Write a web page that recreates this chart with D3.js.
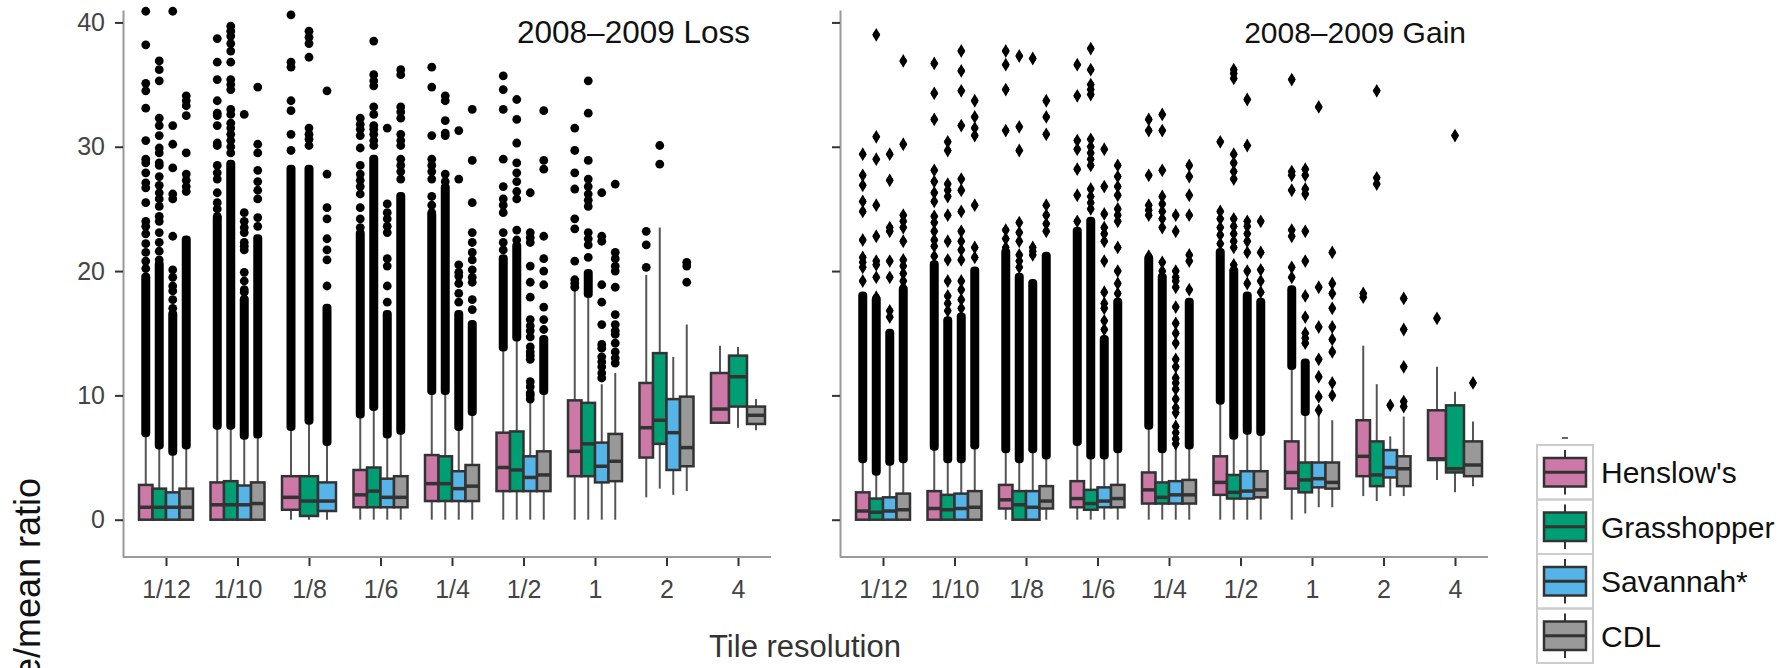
<!DOCTYPE html>
<html><head><meta charset="utf-8">
<script src="https://cdn.jsdelivr.net/npm/d3@7"></script>
<style>
body{margin:0;background:#fff;}
svg{display:block;font-family:"Liberation Sans",Arial,sans-serif;}
</style></head>
<body>
<svg id="c" width="1781" height="668"></svg>
<script>
const categories = ["1/12","1/10","1/8","1/6","1/4","1/2","1","2","4"];
const seriesNames = ["Henslow's","Grasshopper","Savannah*","CDL"];
const seriesColors = ["#CC79A7","#009E73","#56B4E9","#999999"];
const yTicks = [0,10,20,30,40];
const panelTitles = ["2008\u20132009 Loss","2008\u20132009 Gain"];

// [lower whisker, q1, median, q3, upper whisker]
const lossHenslow = [[0,0,1.0,2.8,6.8],[0,0,1.2,3.0,7.5],[0,0.8,1.8,3.5,7.4],[0,1.0,2.0,4.0,8.4],[0,1.5,2.9,5.2,10.3],[0,2.3,4.2,7.0,13.8],[0,3.5,5.5,9.6,18.5],[1.8,5.0,7.4,11.0,19.7],[7.8,7.8,8.9,11.8,14.0]];
const lossGrass = [[0,0,1.0,2.5,5.9],[0,0,1.2,3.1,7.5],[0,0.3,1.5,3.5,7.9],[0,1.0,2.3,4.2,9.0],[0,1.5,2.9,5.1,10.3],[0,2.3,4.0,7.1,14.6],[0,3.5,6.1,9.4,17.9],[2.5,6.1,8.0,13.4,23.5],[7.4,9.1,11.5,13.2,13.9]];
const lossSav = [[0,0,1.0,2.2,5.4],[0,0,1.2,2.75,6.7],[0,0.7,1.5,3.0,6.2],[0,1.0,1.8,3.3,6.8],[0,1.5,2.5,3.9,7.4],[0,2.3,3.4,5.1,9.5],[0,3.0,4.3,6.2,10.9],[2.0,4.0,7.0,9.7,13.1],null];
const lossCDL = [[0,0,1.0,2.5,5.9],[0,0,1.3,3.0,6.8],null,[0,1.0,1.8,3.5,7.1],[0,1.5,2.7,4.4,8.6],[0,2.3,3.6,5.5,10.3],[0,3.1,4.7,6.9,11.8],[2.3,4.3,5.8,9.9,15.7],[7.2,7.7,8.4,9.1,9.7]];

// solid runs of overlapping outliers [from, to]
const lossHenslowDense = [[7.0,19.5],[7.6,24.2],[7.5,28.2],[8.5,23.0],[10.4,24.5],[13.9,21.0],null,null,null];
const lossGrassDense = [[6.0,20.5],[7.6,28.6],[8.0,28.2],[9.1,29.0],[10.4,26.7],[14.7,22.0],[18.2,19.8],null,null];
const lossSavDense = [[5.5,16.5],[6.8,17.7],[6.3,17.0],[6.9,16.5],[7.5,16.5],null,null,null,null];
const lossCDLDense = [[6.0,22.5],[6.9,22.6],null,[7.2,26.0],[8.7,15.7],[10.4,14.5],null,null,null];

// separate outliers
const lossHenslowOut = [[20.2,20.8,21.5,22.2,23.0,23.6,24.0,25.5,26.7,27.1,27.9,28.7,29.0,30.5,33.1,34.5,35.1,38.2,40.9],
 [24.4,25.0,25.5,26.3,27.4,27.9,28.5,30.1,30.3,31.7,32.5,32.7,33.7,35.4,36.8,38.7],
 [29.7,31.0,32.9,33.7,36.4,36.8,40.6],
 [23.5,24.2,25.1,26.2,26.8,27.3,27.8,28.5,29.9,30.9,31.4,31.8,32.3],
 [24.7,25.3,26.0,27.4,28.0,28.5,29.0,30.9,34.8,36.4],
 [21.7,22.3,23.1,24.7,25.3,25.8,26.8,29.0,33.0,34.6,35.7],
 [18.7,19.0,19.3,20.8,23.4,24.2,26.6,27.9,29.7,31.5],
 [20.3,22.1,23.2],[]];
const lossGrassOut = [[20.9,21.6,22.3,23.1,24.0,24.4,25.2,25.8,26.3,26.9,27.6,28.5,28.7,29.5,29.9,30.9,31.7,32.3,35.3,36.2,36.9],
 [29.5,30.0,30.5,31.0,31.5,31.9,32.6,33.0,34.6,35.0,35.4,36.8,37.7,38.3,38.9,39.3,39.7],
 [30.1,30.6,31.0,31.5,37.2,38.3,38.8,39.3],
 [30.1,30.5,31.0,31.4,31.7,32.6,33.2,34.9,35.3,35.8,38.5],
 [27.2,27.8,30.9,31.1,32.1,33.7,34.1],
 [22.5,23.3,25.8,26.4,27.2,27.9,28.7,30.3,32.2,33.8],
 [21.1,22.1,22.6,23.1,25.2,25.7,26.2,26.8,27.4,28.9,32.7,35.3],
 [28.6,30.1],[]];
const lossSavOut = [[17.0,17.7,18.4,18.8,19.5,20.1,22.8,25.8,26.2,28.3,30.2,31.7,40.9],
 [18.3,18.5,19.2,19.9,21.7,22.0,22.3,23.1,23.5,24.0,24.7,32.6],
 [18.8,20.9,21.7,22.6,24.2,25.1,27.8,34.5],
 [17.5,18.8,20.4,21.0,23.1,23.6,24.2,24.7,25.4,31.5],
 [17.5,18.2,19.0,19.6,19.9,20.5,27.4,31.3],
 [9.7,10.0,10.2,10.7,11.1,12.9,13.2,13.5,13.9,14.7,15.2,15.6,16.1,17.9,19.1,20.4,22.3,22.7,23.1,26.3],
 [11.4,11.8,12.3,12.7,13.1,13.8,14.1,15.7,17.5,18.9,22.4,22.8,26.3],
 [],null];
const lossCDLOut = [[26.4,26.8,27.3,27.8,29.5,32.5,33.3,33.7,34.1],
 [23.6,24.3,25.8,26.5,27.2,28.1,29.5,30.2,34.8],
 null,
 [27.4,28.0,28.5,29.0,30.1,30.5,31.0,32.3,32.8,33.2,35.8,36.2],
 [16.9,17.7,19.1,19.5,20.1,20.9,21.5,22.3,23.1,25.5,28.9,33.0],
 [15.3,16.1,17.1,18.9,20.0,21.0,22.8,28.2,28.9,32.9],
 [12.6,13.0,13.5,14.2,14.9,15.2,15.7,16.5,18.7,20.0,20.4,21.0,21.5,27.0],
 [19.1,20.4,20.7],[]];

const gainHenslow = [[0,0,0.7,2.2,4.8],[0,0,0.9,2.3,5.8],[0,0.9,1.6,2.8,5.6],[0,1.0,1.7,3.1,6.2],[0,1.3,2.4,3.8,7.5],[0,2.0,3.0,5.1,9.5],[0,2.5,3.8,6.3,12.3],[1.9,3.5,5.1,8.0,14.0],[3.2,4.8,4.9,8.8,12.3]];
const gainGrass = [[0,0,0.6,1.7,3.8],[0,0,0.8,2.0,4.8],[0,0,1.2,2.3,4.8],[0,0.8,1.3,2.4,5.1],[0,1.3,1.8,3.0,5.6],[0,1.7,2.2,3.6,6.7],[0.5,2.2,3.2,4.6,8.6],[1.5,2.7,3.6,6.3,10.9],[2.2,3.8,4.1,9.2,10.3]];
const gainSav = [[0,0,0.7,1.8,4.6],[0,0,0.9,2.1,4.8],[0,0,1.0,2.3,5.6],[0,1.0,1.5,2.6,5.1],[0,1.3,2.0,3.1,5.9],[0,1.7,2.3,3.9,7.1],[1.0,2.6,3.3,4.6,8.5],[1.9,3.4,4.2,5.6,6.7],null];
const gainCDL = [[0,0,0.8,2.1,4.8],[0,0,1.0,2.3,5.9],[0,0.9,1.5,2.7,5.1],[0,1.0,1.7,2.8,5.6],[0,1.3,2.0,3.2,5.9],[0,1.8,2.4,3.9,7.0],[1.0,2.5,3.0,4.6,8.0],[1.9,2.7,4.1,5.1,8.3],[2.7,3.5,4.4,6.3,7.9]];

const gainHenslowDense = [[4.9,18.0],[5.9,20.5],[5.7,21.5],[6.3,23.2],[7.6,21.0],[9.6,21.5],[12.4,18.5],null,null];
const gainGrassDense = [[3.9,17.7],[4.9,16.0],[4.9,19.5],[5.2,24.0],[5.7,19.5],[6.8,20.0],[8.7,12.6],null,null];
const gainSavDense = [[4.7,15.0],[4.9,16.3],[5.7,19.0],[5.2,14.5],null,[7.2,18.0],null,null,null];
const gainCDLDense = [[4.9,18.5],[6.0,20.0],[5.2,21.2],[5.7,17.5],[6.0,17.5],[7.1,17.5],null,null,null];

const gainHenslowOut = [[19.2,20.3,20.7,21.1,22.5,24.8,25.6,26.9,27.7,29.4],
 [21.2,22.0,22.5,23.2,23.9,24.4,25.6,26.3,27.2,28.1,32.2,34.3,36.7],
 [21.9,22.6,23.3,31.3,34.6,36.6,37.7],
 [24.0,26.1,28.2,29.8,30.5,34.1,36.6],
 [21.2,24.5,24.9,25.3,27.7,31.3,32.2],
 [22.2,22.9,23.5,24.2,24.8,30.4],
 [19.5,20.3,22.8,23.3,26.5,27.7,28.0,35.4],
 [17.9,18.2],[16.2]];
const gainGrassOut = [[17.9,19.5,20.5,20.8,22.8,25.3,29.0,30.8,39.0],
 [16.8,17.4,18.0,19.2,20.9,22.4,24.5,26.0,26.5,27.0,29.7,30.4],
 [20.3,20.8,21.3,22.4,23.1,23.9,29.7,31.6,37.3],
 [25.0,25.5,26.0,26.6,28.5,29.0,29.5,30.0,30.6,34.2,34.6,35.0,36.2,37.9],
 [20.0,20.7,23.5,24.2,24.8,25.4,26.0,28.1,31.3,32.6],
 [20.5,21.9,22.4,23.0,23.6,24.2,27.4,28.0,28.7,29.4,35.5,35.9,36.2],
 [14.2,14.6,15.0,16.3,18.0,20.8,23.2,26.2,26.6,27.7,28.2],
 [27.0,27.5,34.5],[30.9]];
const gainSavOut = [[16.3,16.8,19.5,20.8,23.2,23.5,27.3,29.4],
 [17.0,17.7,18.5,19.2,20.9,21.7,22.4,23.2,24.8,26.5,27.4,31.7,34.5,36.1,37.7],
 [21.3,21.6,21.9,37.1],
 [15.3,16.0,17.0,17.4,18.3,20.8,22.4,23.0,23.5,24.6,26.8,29.8],
 [6.1,6.5,7.0,7.5,8.6,9.0,9.7,10.5,11.0,11.4,12.3,12.9,14.2,15.0,15.8,17.1,18.7,19.2,19.5,20.0,23.2,24.5],
 [19.0,20.0,21.5,22.4,23.0,23.6,24.0,30.1,33.8],
 [8.8,9.9,11.5,12.9,15.5,18.7,33.2],
 [9.2],null];
const gainCDLOut = [[18.7,19.2,19.8,20.4,20.9,22.4,23.5,24.0,24.5,30.2,36.9],
 [21.1,21.9,25.3,30.9,31.5,32.4,33.7],
 [23.2,23.8,24.5,25.3,31.0,32.4,33.7],
 [18.2,19.0,20.0,21.9,24.0,24.5,25.0,26.1,26.8,27.6,28.5],
 [18.5,20.8,21.3,24.5,26.1,27.6,28.5],
 [18.3,19.2,20.1,21.5,24.0],
 [10.0,11.0,13.5,14.5,15.5,17.0,18.2,19.0,21.5],
 [9.1,9.5,12.3,15.3,17.8],[11.0]];

const panels = [
  {title: panelTitles[0], stats:[lossHenslow,lossGrass,lossSav,lossCDL], dense:[lossHenslowDense,lossGrassDense,lossSavDense,lossCDLDense], out:[lossHenslowOut,lossGrassOut,lossSavOut,lossCDLOut]},
  {title: panelTitles[1], stats:[gainHenslow,gainGrass,gainSav,gainCDL], dense:[gainHenslowDense,gainGrassDense,gainSavDense,gainCDLDense], out:[gainHenslowOut,gainGrassOut,gainSavOut,gainCDLOut]}
];

const svg = d3.select("#c");
const axisXs = [123, 840];
const yTop = 10, yBottom = 557;
const y = d3.scaleLinear().domain([-3, 41]).range([yBottom, yTop]);
const groupW = 54;
const diamond = d3.symbol().type(d3.symbolDiamond).size(55)();

panels.forEach((p, pi) => {
  const ax = axisXs[pi];
  const x = d3.scalePoint().domain(categories).range([ax + 43, ax + 615]);
  const g = svg.append("g");

  const yAxis = d3.axisLeft(y).tickValues(yTicks).tickSize(8).tickSizeOuter(0).tickPadding(10);
  if (pi === 1) yAxis.tickFormat("");
  const ya = g.append("g").attr("transform", `translate(${ax},0)`).call(yAxis);
  ya.select(".domain").attr("stroke", "#999").attr("stroke-width", 2);
  ya.selectAll(".tick line").attr("stroke", "#333").attr("stroke-width", 2);
  ya.selectAll(".tick text").attr("font-size", 25).attr("fill", "#444").attr("font-family", "'Liberation Sans',Arial,sans-serif");

  const xAxis = d3.axisBottom(x).tickSize(9).tickSizeOuter(0).tickPadding(14);
  const xa = g.append("g").attr("transform", `translate(0,${yBottom})`).call(xAxis);
  xa.select(".domain").remove();
  xa.append("line").attr("x1", ax).attr("x2", ax + 648).attr("y1", 0).attr("y2", 0).attr("stroke", "#999").attr("stroke-width", 2);
  xa.selectAll(".tick line").attr("stroke", "#333").attr("stroke-width", 2);
  xa.selectAll(".tick text").attr("font-size", 25).attr("fill", "#444").attr("font-family", "'Liberation Sans',Arial,sans-serif");

  categories.forEach((cat, ci) => {
    const present = seriesNames.filter((s, si) => p.stats[si][ci]);
    const inner = d3.scaleBand().domain(present).range([x(cat) - groupW/2, x(cat) + groupW/2]);
    seriesNames.forEach((s, si) => {
      const st = p.stats[si][ci];
      if (!st) return;
      const x0 = inner(s), w = inner.bandwidth(), cx = x0 + w/2;
      const [lo, q1, med, q3, hi] = st;
      const dn = p.dense[si][ci];
      const outs = p.out[si][ci] || [];
      g.append("line").attr("x1", cx).attr("x2", cx).attr("y1", y(q3)).attr("y2", y(hi)).attr("stroke", "#555").attr("stroke-width", 2);
      g.append("line").attr("x1", cx).attr("x2", cx).attr("y1", y(q1)).attr("y2", y(lo)).attr("stroke", "#555").attr("stroke-width", 2);
      if (dn) {
        g.append("rect").attr("x", cx - 4.5).attr("width", 9)
          .attr("y", y(dn[1]) - 4.5).attr("height", y(dn[0]) - y(dn[1]) + 9)
          .attr("rx", 4).attr("fill", "#000");
      }
      if (pi === 0) {
        g.selectAll(null).data(outs).enter().append("circle")
          .attr("cx", cx).attr("cy", d => y(d)).attr("r", 4.4).attr("fill", "#000");
      } else {
        const m = g.selectAll(null).data(outs).enter().append("g")
          .attr("transform", d => `translate(${cx},${y(d)})`);
        m.append("path").attr("d", diamond).attr("fill", "#000");
        m.append("circle").attr("r", 3.3).attr("fill", "#000");
      }
      g.append("rect").attr("x", x0).attr("width", w).attr("y", y(q3)).attr("height", Math.max(0, y(q1) - y(q3)))
        .attr("fill", seriesColors[si]).attr("stroke", "#333").attr("stroke-width", 2.5);
      g.append("line").attr("x1", x0).attr("x2", x0 + w).attr("y1", y(med)).attr("y2", y(med)).attr("stroke", "#333").attr("stroke-width", 3.5);
    });
  });

  g.append("text").attr("x", pi === 0 ? 750 : 1466).attr("y", 43).attr("text-anchor", "end")
    .attr("font-size", pi === 0 ? 31.5 : 30).attr("fill", "#111").text(p.title);
});

svg.append("text").attr("x", 805).attr("y", 657).attr("text-anchor", "middle").attr("font-size", 31).attr("fill", "#333").text("Tile resolution");
svg.append("text").attr("transform", "translate(40,478) rotate(-90)").attr("text-anchor", "end").attr("font-size", 36).attr("fill", "#111").text("e/mean ratio");

const legTop = 445, rowH = 54.5, legX = 1537, legW = 56;
const leg = svg.append("g");
leg.append("line").attr("x1", legX + 25).attr("x2", legX + 31).attr("y1", legTop - 7).attr("y2", legTop - 7).attr("stroke", "#333").attr("stroke-width", 1.5);
seriesNames.forEach((s, i) => {
  const t = legTop + i * rowH;
  leg.append("rect").attr("x", legX).attr("y", t).attr("width", legW).attr("height", rowH).attr("fill", "none").attr("stroke", "#ccc").attr("stroke-width", 2);
  const cx = legX + 28;
  leg.append("line").attr("x1", cx).attr("x2", cx).attr("y1", t + 5).attr("y2", t + rowH - 5).attr("stroke", "#333").attr("stroke-width", 2);
  leg.append("rect").attr("x", legX + 7).attr("y", t + 13).attr("width", 42).attr("height", rowH - 26).attr("fill", seriesColors[i]).attr("stroke", "#333").attr("stroke-width", 2.5);
  leg.append("line").attr("x1", legX + 7).attr("x2", legX + 49).attr("y1", t + rowH/2).attr("y2", t + rowH/2).attr("stroke", "#333").attr("stroke-width", 3);
  leg.append("text").attr("x", 1601).attr("y", t + rowH/2 + 11).attr("font-size", 30).attr("fill", "#111").text(s);
});
</script>
</body></html>
